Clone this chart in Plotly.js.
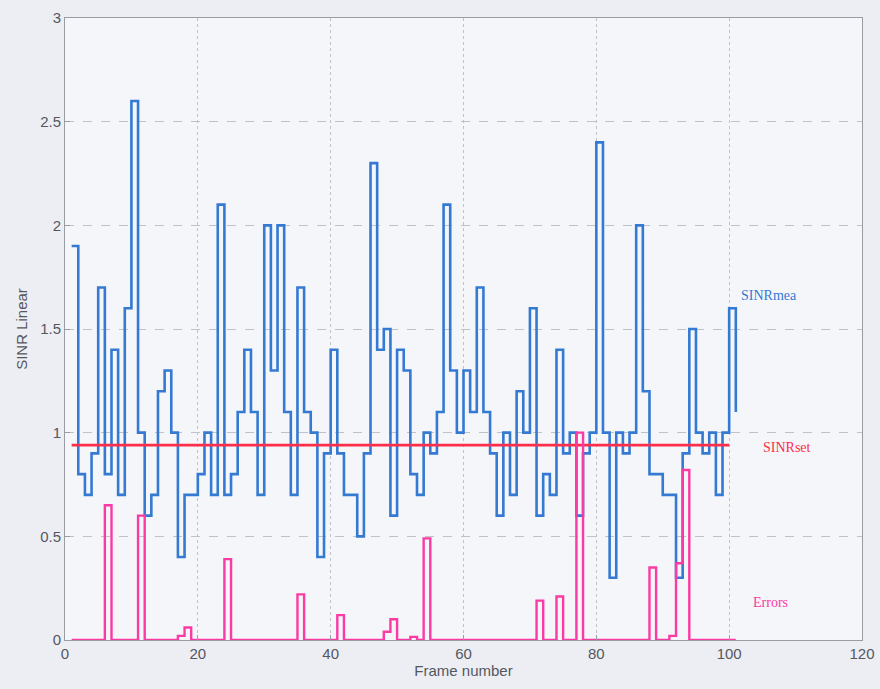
<!DOCTYPE html>
<html>
<head>
<meta charset="utf-8">
<script src="https://cdn.plot.ly/plotly-3.0.1.min.js"></script>
<style>
html,body{margin:0;padding:0;background:#eceef4;}
#chart{width:880px;height:689px;}
</style>
</head>
<body>
<div id="chart"></div>
<script>
// Frame numbers 1..101
const frames = Array.from({length: 101}, (_, i) => i + 1);

// Measured SINR (linear), one value per frame
const sinrMea = [
  1.9, 0.8, 0.7, 0.9, 1.7, 0.8, 1.4, 0.7, 1.6, 2.6,
  1.0, 0.6, 0.7, 1.2, 1.3, 1.0, 0.4, 0.7, 0.7, 0.8,
  1.0, 0.7, 2.1, 0.7, 0.8, 1.1, 1.4, 1.1, 0.7, 2.0,
  1.3, 2.0, 1.1, 0.7, 1.7, 1.1, 1.0, 0.4, 0.9, 1.4,
  0.9, 0.7, 0.7, 0.5, 0.9, 2.3, 1.4, 1.5, 0.6, 1.4,
  1.3, 0.8, 0.7, 1.0, 0.9, 1.1, 2.1, 1.3, 1.0, 1.3,
  1.1, 1.7, 1.1, 0.9, 0.6, 1.0, 0.7, 1.2, 1.0, 1.6,
  0.6, 0.8, 0.7, 1.4, 0.9, 1.0, 0.6, 0.9, 1.0, 2.4,
  1.0, 0.3, 1.0, 0.9, 1.0, 2.0, 1.2, 0.8, 0.8, 0.7,
  0.7, 0.3, 0.9, 1.5, 1.0, 0.9, 1.0, 0.7, 1.0, 1.6,
  1.1
];

// Error rate per frame
const errors = [
  0, 0, 0, 0, 0, 0.65, 0, 0, 0, 0,
  0.6, 0, 0, 0, 0, 0, 0.02, 0.06, 0, 0,
  0, 0, 0, 0.39, 0, 0, 0, 0, 0, 0,
  0, 0, 0, 0, 0.22, 0, 0, 0, 0, 0,
  0.12, 0, 0, 0, 0, 0, 0, 0.04, 0.1, 0,
  0, 0.015, 0, 0.49, 0, 0, 0, 0, 0, 0,
  0, 0, 0, 0, 0, 0, 0, 0, 0, 0,
  0.19, 0, 0, 0.21, 0, 0, 1.0, 0, 0, 0,
  0, 0, 0, 0, 0, 0, 0, 0.35, 0, 0,
  0.02, 0.37, 0.82, 0, 0, 0, 0, 0, 0, 0,
  0
];

// SINR target
const sinrSetValue = 0.94;
const setFrames = [1, 100];
const sinrSet = [sinrSetValue, sinrSetValue];

const xTicks = [0, 20, 40, 60, 80, 100, 120];
const yTicks = [0, 0.5, 1, 1.5, 2, 2.5, 3];
const yTickText = ['0', '0.5', '1', '1.5', '2', '2.5', '3'];

const traces = [
  {x: frames, y: sinrMea, type: 'scatter', mode: 'lines', name: 'SINRmea',
   line: {shape: 'hv', color: '#3479d2', width: 2.6}},
  {x: setFrames, y: sinrSet, type: 'scatter', mode: 'lines', name: 'SINRset',
   line: {color: '#fb2f4a', width: 2.6}},
  {x: frames, y: errors, type: 'scatter', mode: 'lines', name: 'Errors',
   line: {shape: 'hv', color: '#fb3aa3', width: 2.4}}
];

const axisCommon = {
  showline: true, mirror: true, linecolor: '#9a9ca4', linewidth: 1,
  ticks: 'inside', ticklen: 5, tickcolor: '#9a9ca4',
  zeroline: false,
  tickfont: {family: 'Liberation Sans, Arial, sans-serif', size: 15, color: '#55575e'},
  gridcolor: '#c0c2ca', gridwidth: 1
};

const layout = {
  width: 880, height: 689,
  margin: {l: 65, r: 18, t: 18, b: 49},
  paper_bgcolor: '#eceef4',
  plot_bgcolor: '#f5f6fa',
  showlegend: false,
  xaxis: Object.assign({}, axisCommon, {
    range: [0, 120], tickvals: xTicks, griddash: 'dot',
    title: {text: 'Frame number', standoff: 4,
            font: {family: 'Liberation Sans, Arial, sans-serif', size: 15, color: '#55575e'}}
  }),
  yaxis: Object.assign({}, axisCommon, {
    range: [0, 3], tickvals: yTicks, ticktext: yTickText, griddash: 'dash',
    title: {text: 'SINR Linear', standoff: 8,
            font: {family: 'Liberation Sans, Arial, sans-serif', size: 15, color: '#55575e'}}
  }),
  annotations: [
    {x: 101.5, y: 1.66, xref: 'x', yref: 'y', text: 'SINRmea', showarrow: false,
     xanchor: 'left', font: {family: 'Liberation Serif, Times New Roman, serif', size: 14, color: '#3479d2'}},
    {x: 104.8, y: 0.93, xref: 'x', yref: 'y', text: 'SINRset', showarrow: false,
     xanchor: 'left', font: {family: 'Liberation Serif, Times New Roman, serif', size: 14, color: '#fb2f4a'}},
    {x: 103.3, y: 0.18, xref: 'x', yref: 'y', text: 'Errors', showarrow: false,
     xanchor: 'left', font: {family: 'Liberation Serif, Times New Roman, serif', size: 14, color: '#fb3aa3'}}
  ]
};

Plotly.newPlot('chart', traces, layout, {displayModeBar: false, staticPlot: true});
</script>
</body>
</html>
